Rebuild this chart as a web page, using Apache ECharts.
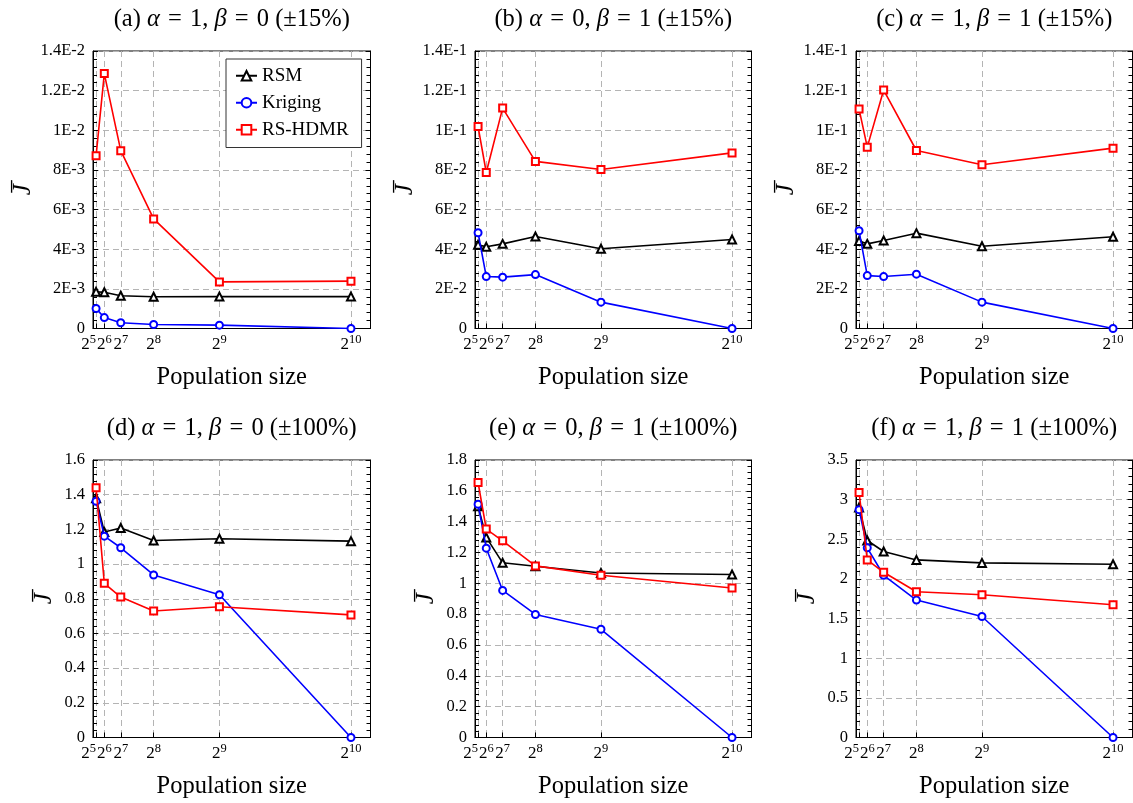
<!DOCTYPE html>
<html>
<head>
<meta charset="utf-8">
<script src="https://cdn.jsdelivr.net/npm/echarts@6/dist/echarts.min.js"></script>
<style>
html,body{margin:0;padding:0;background:#fff;}
#chart{width:1133px;height:803px;}
</style>
</head>
<body>
<div id="chart"></div>
<script>
// ---- data ----
const popSizes = [32, 64, 128, 256, 512, 1024];
const xExponents = ['5', '6', '7', '8', '9', '10'];
const seriesNames = ['RSM', 'Kriging', 'RS-HDMR'];

const titleA = '(a) {i|α}\u2004=\u20041, {i|β}\u2004=\u20040 (±15%)';
const titleB = '(b) {i|α}\u2004=\u20040, {i|β}\u2004=\u20041 (±15%)';
const titleC = '(c) {i|α}\u2004=\u20041, {i|β}\u2004=\u20041 (±15%)';
const titleD = '(d) {i|α}\u2004=\u20041, {i|β}\u2004=\u20040 (±100%)';
const titleE = '(e) {i|α}\u2004=\u20040, {i|β}\u2004=\u20041 (±100%)';
const titleF = '(f) {i|α}\u2004=\u20041, {i|β}\u2004=\u20041 (±100%)';

const rsmA  = [1.85e-3, 1.83e-3, 1.65e-3, 1.60e-3, 1.61e-3, 1.61e-3];
const krigA = [1.01e-3, 0.55e-3, 0.29e-3, 0.20e-3, 0.17e-3, 0];
const hdmrA = [8.71e-3, 12.86e-3, 8.97e-3, 5.53e-3, 2.35e-3, 2.39e-3];

const rsmB  = [4.22e-2, 4.12e-2, 4.27e-2, 4.64e-2, 4.02e-2, 4.49e-2];
const krigB = [4.83e-2, 2.62e-2, 2.59e-2, 2.72e-2, 1.33e-2, 0];
const hdmrB = [10.19e-2, 7.87e-2, 11.12e-2, 8.43e-2, 8.02e-2, 8.86e-2];

const rsmC  = [4.41e-2, 4.27e-2, 4.44e-2, 4.81e-2, 4.15e-2, 4.63e-2];
const krigC = [4.93e-2, 2.67e-2, 2.62e-2, 2.74e-2, 1.33e-2, 0];
const hdmrC = [11.07e-2, 9.15e-2, 12.03e-2, 8.98e-2, 8.26e-2, 9.10e-2];

const rsmD  = [1.38, 1.185, 1.208, 1.136, 1.146, 1.132];
const krigD = [1.362, 1.161, 1.094, 0.937, 0.823, 0];
const hdmrD = [1.440, 0.889, 0.810, 0.729, 0.754, 0.707];

const rsmE  = [1.50, 1.298, 1.133, 1.111, 1.067, 1.057];
const krigE = [1.513, 1.228, 0.954, 0.798, 0.702, 0];
const hdmrE = [1.654, 1.352, 1.276, 1.113, 1.052, 0.970];

const rsmF  = [2.90, 2.485, 2.346, 2.240, 2.202, 2.185];
const krigF = [2.874, 2.392, 2.046, 1.733, 1.526, 0];
const hdmrF = [3.090, 2.240, 2.084, 1.839, 1.800, 1.674];

const yLabelsA  = ['0', '2E-3', '4E-3', '6E-3', '8E-3', '1E-2', '1.2E-2', '1.4E-2'];
const yLabelsBC = ['0', '2E-2', '4E-2', '6E-2', '8E-2', '1E-1', '1.2E-1', '1.4E-1'];
const yLabelsD  = ['0', '0.2', '0.4', '0.6', '0.8', '1', '1.2', '1.4', '1.6'];
const yLabelsE  = ['0', '0.2', '0.4', '0.6', '0.8', '1', '1.2', '1.4', '1.6', '1.8'];
const yLabelsF  = ['0', '0.5', '1', '1.5', '2', '2.5', '3', '3.5'];

const xAxisName = 'Population size';
const yAxisName = 'J\u0305';

// ---- panels (axis ranges) ----
const panels = [
  {title: titleA, data: [rsmA, krigA, hdmrA], yMax: 0.014, yInt: 0.002, yLabels: yLabelsA, row: 0, col: 0},
  {title: titleB, data: [rsmB, krigB, hdmrB], yMax: 0.14, yInt: 0.02, yLabels: yLabelsBC, row: 0, col: 1},
  {title: titleC, data: [rsmC, krigC, hdmrC], yMax: 0.14, yInt: 0.02, yLabels: yLabelsBC, row: 0, col: 2},
  {title: titleD, data: [rsmD, krigD, hdmrD], yMax: 1.6, yInt: 0.2, yLabels: yLabelsD, row: 1, col: 0},
  {title: titleE, data: [rsmE, krigE, hdmrE], yMax: 1.8, yInt: 0.2, yLabels: yLabelsE, row: 1, col: 1},
  {title: titleF, data: [rsmF, krigF, hdmrF], yMax: 3.5, yInt: 0.5, yLabels: yLabelsF, row: 1, col: 2}
];

// ---- layout / style ----
const FONT = 'Liberation Serif';
const colLeft = [93, 475, 856];
const colWidth = [277.5, 276.5, 276.5];
const rowTop = [51, 460];
const plotH = 277.5;
const yNameGap = [57, 36];
const colors = ['#000000', '#0000ff', '#ff0000'];
const symbols = ['emptyTriangle', 'emptyCircle', 'emptyRect'];
const symbolSizes = [8, 7, 7];

const chart = echarts.init(document.getElementById('chart'), null, {renderer: 'canvas'});

const grids = [], xAxes = [], yAxes = [], titles = [], series = [];

panels.forEach((p, i) => {
  const left = colLeft[p.col], top = rowTop[p.row], w = colWidth[p.col];
  grids.push({left: left, top: top, width: w, height: plotH, show: true,
    borderColor: '#000', borderWidth: 1, backgroundColor: 'transparent', outerBoundsMode: 'none'});
  titles.push({text: p.title, left: left + w / 2 - 5, top: p.row === 0 ? 2 : 411, textAlign: 'center',
    textStyle: {fontFamily: FONT, fontSize: 24.5, fontWeight: 'normal', color: '#000',
      rich: {i: {fontFamily: FONT, fontStyle: 'italic', fontSize: 24.5, color: '#000'}}}});
  xAxes.push({type: 'value', gridIndex: i, min: 20, max: 1100,
    name: xAxisName, nameLocation: 'middle', nameGap: 37,
    nameTextStyle: {fontFamily: FONT, fontSize: 24.5, color: '#000'},
    axisLine: {show: true, onZero: false, lineStyle: {color: '#000', width: 1}},
    axisTick: {show: true, inside: true, length: 5, customValues: popSizes, lineStyle: {color: '#000'}},
    axisLabel: {show: true, customValues: popSizes, margin: 5, hideOverlap: false,
      showMinLabel: true, showMaxLabel: true, alignMinLabel: 'right',
      formatter: function (v) {
        const k = popSizes.indexOf(v);
        if (k < 0) return '';
        return '{b|2}{e|' + xExponents[k] + '}';
      },
      rich: {
        b: {fontFamily: FONT, fontSize: 17, color: '#000', verticalAlign: 'bottom', lineHeight: 20},
        e: {fontFamily: FONT, fontSize: 12.5, color: '#000', verticalAlign: 'top', lineHeight: 12}
      }},
    splitLine: {show: true, lineStyle: {color: '#b4b4b4', width: 1, type: [6, 4]}},
    minorTick: {show: false}, minorSplitLine: {show: false}
  });
  yAxes.push({type: 'value', gridIndex: i, position: 'left', min: 0, max: p.yMax, interval: p.yInt,
    name: yAxisName, nameLocation: 'middle', nameGap: yNameGap[p.row], nameRotate: 90,
    nameTextStyle: {fontFamily: FONT, fontStyle: 'italic', fontSize: 25, color: '#000'},
    axisLine: {show: true, lineStyle: {color: '#000', width: 1}},
    axisTick: {show: true, inside: true, length: 5, lineStyle: {color: '#000'}},
    minorTick: {show: true, splitNumber: 5, length: 4, lineStyle: {color: '#000'}},
    axisLabel: {show: true, margin: 8, fontFamily: FONT, fontSize: 16.5, color: '#000',
      showMinLabel: true, showMaxLabel: true,
      formatter: (function (labels) { return function (v, idx) { return labels[idx] !== undefined ? labels[idx] : ''; }; })(p.yLabels)},
    splitLine: {show: true, lineStyle: {color: '#b4b4b4', width: 1, type: [6, 4]}}
  });
  yAxes.push({type: 'value', gridIndex: i, position: 'right', min: 0, max: p.yMax, interval: p.yInt,
    axisLine: {show: true, lineStyle: {color: '#000', width: 1}},
    axisTick: {show: true, inside: true, length: 5, lineStyle: {color: '#000'}},
    minorTick: {show: true, splitNumber: 5, length: 4, lineStyle: {color: '#000'}},
    axisLabel: {show: false}, splitLine: {show: false}
  });
  p.data.forEach((vals, s) => {
    series.push({
      name: seriesNames[s], type: 'line', xAxisIndex: i, yAxisIndex: 2 * i,
      data: popSizes.map((x, k) => [x, vals[k]]),
      symbol: symbols[s], symbolSize: symbolSizes[s], showSymbol: true,
      lineStyle: {color: colors[s], width: 1.6},
      itemStyle: {color: colors[s], borderColor: colors[s], borderWidth: 1.4},
      z: 2 + s, animation: false, silent: true
    });
  });
});

chart.setOption({
  animation: false,
  backgroundColor: '#fff',
  title: titles,
  grid: grids,
  xAxis: xAxes,
  yAxis: yAxes,
  legend: {
    data: seriesNames, orient: 'vertical', left: 226, top: 59,
    padding: [6, 13, 7, 9], itemGap: 5.5, itemWidth: 21, itemHeight: 12,
    backgroundColor: '#fff', borderColor: '#333', borderWidth: 1, borderRadius: 0,
    textStyle: {fontFamily: FONT, fontSize: 19, color: '#000', lineHeight: 21.5},
    selectedMode: false
  },
  series: series
});
</script>
</body>
</html>
